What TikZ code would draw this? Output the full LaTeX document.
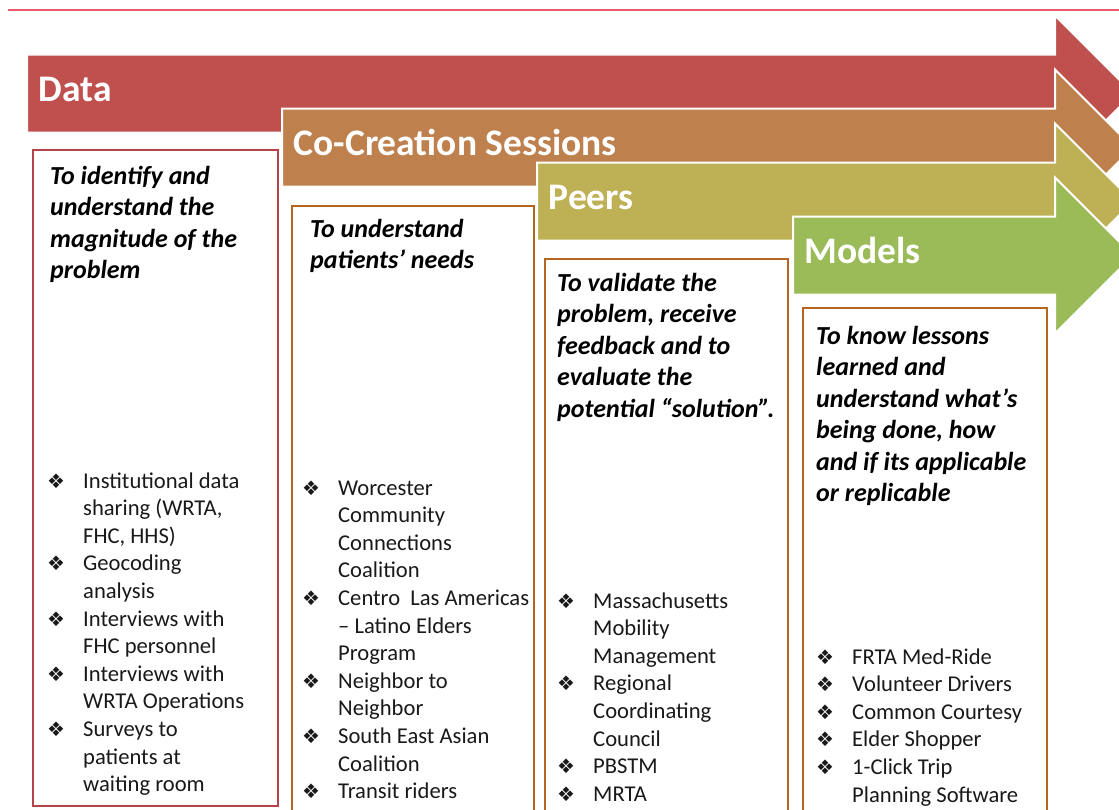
\documentclass[tikz,border=0pt]{standalone}
\usepackage{fontspec}
\setmainfont{Carlito}
\newfontfamily\dingfont{DejaVu Sans}

\definecolor{dataclr}{HTML}{C0504D}
\definecolor{cocrclr}{HTML}{BE804D}
\definecolor{peerclr}{HTML}{BEB054}
\definecolor{modelclr}{HTML}{9BBB59}
\definecolor{redframe}{HTML}{B5434A}
\definecolor{brownframe}{HTML}{B5651D}
\definecolor{ruleclr}{HTML}{E85A6E}

\newcommand\bul{\makebox[35pt][l]{\hspace*{-1pt}\dingfont\fontsize{20}{20}\selectfont ❖}}
\newcommand\ind{\hspace*{35pt}}

\begin{document}
\begin{tikzpicture}
	[x=1pt,y=-1pt%
	,stagelabel/.style={anchor=base west,%
		inner sep=0pt,%
		text=white,%
		font=\fontsize{37.5}{44}\selectfont\bfseries}%
	,aim/.style={anchor=base west,%
		inner sep=0pt,%
		align=left,%
		font=\fontsize{26}{31.5}\selectfont\bfseries\itshape}%
	,items/.style={anchor=base west,%
		inner sep=0pt,%
		align=left,%
		text=black!90,%
		font=\fontsize{22.6}{27.6}\selectfont}%
	,frame/.style={draw=#1,line width=2pt}]
	\useasboundingbox (0,0) rectangle (1119,809);
	\draw[ruleclr,line width=2.2pt] (8,10) -- (1119,10);
	% the four stage arrows, later ones on top
	\foreach \x/\y/\clr/\nm/\lbl in {27/93.5/dataclr/data/Data,%
		282/147.5/cocrclr/cocreation/Co-Creation Sessions,%
		537/201.5/peerclr/peers/Peers,%
		793/255.5/modelclr/models/Models}
	{
		\filldraw[fill=\clr,draw=white,line width=2pt]
			(\x,\y-39) -- (1055,\y-39) -- (1055,\y-78) -- (1133,\y)
			-- (1055,\y+78) -- (1055,\y+39) -- (\x,\y+39) -- cycle;
		\node[stagelabel] (\nm) at (\x+11.5,\y+8) {\lbl};
	}
	% boxes under each stage
	\draw[frame=redframe] (33,150) rectangle (278,806);
	\draw[frame=brownframe] (292,206) rectangle (534,820);
	\draw[frame=brownframe] (545,259) rectangle (788,820);
	\draw[frame=brownframe] (803,308) rectangle (1047,820);
	% texts sit on the baseline of their last line
	\node[aim] (dataaim) at (50,278.5) {To identify and\\understand the\\magnitude of the\\problem};
	\node[aim] (cocraim) at (310,268.5) {To understand\\patients’ needs};
	\node[aim] (peeraim) at (557,417) {To validate the\\problem, receive\\feedback and to\\evaluate the\\potential “solution”.};
	\node[aim] (modelaim) at (816,501.5) {To know lessons\\learned and\\understand what’s\\being done, how\\and if its applicable\\or replicable};
	\node[items] (dataitems) at (48,791.6) {\bul Institutional data\\\ind sharing (WRTA,\\\ind FHC, HHS)\\\bul Geocoding\\\ind analysis\\\bul Interviews with\\\ind FHC personnel\\\bul Interviews with\\\ind WRTA Operations\\\bul Surveys to\\\ind patients at\\\ind waiting room};
	\node[items] (cocritems) at (303,798.6) {\bul Worcester\\\ind Community\\\ind Connections\\\ind Coalition\\\bul Centro\ \ Las Americas\\\ind – Latino Elders\\\ind Program\\\bul Neighbor to\\\ind Neighbor\\\bul South East Asian\\\ind Coalition\\\bul Transit riders};
	\node[items] (peeritems) at (558,801.2) {\bul Massachusetts\\\ind Mobility\\\ind Management\\\bul Regional\\\ind Coordinating\\\ind Council\\\bul PBSTM\\\bul MRTA};
	\node[items] (modelitems) at (817,802) {\bul FRTA Med-Ride\\\bul Volunteer Drivers\\\bul Common Courtesy\\\bul Elder Shopper\\\bul 1-Click Trip\\\ind Planning Software};
\end{tikzpicture}
\end{document}
